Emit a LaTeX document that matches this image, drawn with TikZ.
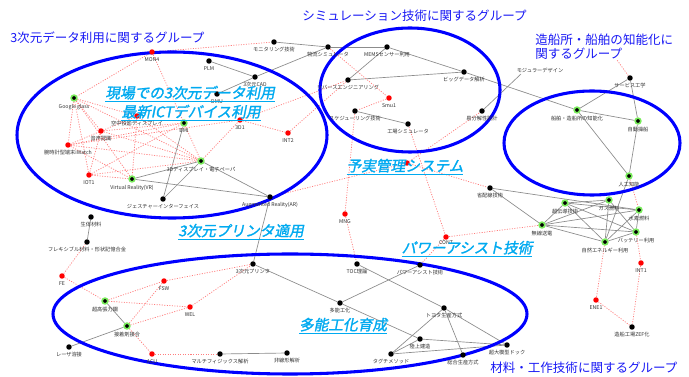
\documentclass[tikz,border=0pt]{standalone}
\usepackage{fontspec}
\setmainfont{Noto Sans CJK JP}
\newfontfamily\jpb[FakeSlant=0.2,FakeBold=1.5]{Noto Sans CJK JP}
\definecolor{eblue}{RGB}{0,0,255}
\definecolor{tblue}{RGB}{25,25,245}
\definecolor{cy}{RGB}{0,170,240}
\definecolor{halo}{RGB}{120,235,90}
\definecolor{rline}{RGB}{255,125,125}
\definecolor{gline}{RGB}{140,140,140}
\definecolor{lblc}{RGB}{50,50,50}
\pgfdeclarelayer{bgfill}
\pgfdeclarelayer{edges}
\pgfdeclarelayer{rings}
\pgfsetlayers{bgfill,edges,rings,main}
\begin{document}
\begin{tikzpicture}[x=0.75pt,y=-0.75pt,
 bdot/.style={circle,fill=black,inner sep=0pt,minimum size=4.1pt},
 gdot/.style={circle,fill=black,draw=halo,line width=1.2pt,inner sep=0pt,minimum size=4.3pt},
 rdot/.style={circle,fill=red,inner sep=0pt,minimum size=4.1pt},
 lbl/.style={font=\fontsize{3.9}{4}\selectfont,text=lblc,inner sep=0.3pt},
 every label/.style={lbl},
 label distance=1.3pt,
 gl/.style={draw=gline,line width=0.5pt},
 rl/.style={draw=rline,line width=0.55pt,dash pattern=on 0.8pt off 1.1pt},
 grp/.style={font=\fontsize{9.4}{10}\selectfont,text=tblue,inner sep=0pt,anchor=west},
 ov/.style={font=\jpb\fontsize{11}{12}\selectfont,text=cy,inner sep=0pt},
 ring/.style={draw=eblue,line width=2.3pt}
]
\begin{pgfonlayer}{bgfill}
\fill[white] (0,0) rectangle (689,377);
\end{pgfonlayer}
\useasboundingbox (0,0) rectangle (689,377);

% ---------- nodes: top / simulation ----------
\node[rdot,label=below:MON4] (mon4) at (152,52) {};
\node[bdot,label=below:PLM] (plm) at (209,61) {};
\node[bdot,label=below:3次元CAD] (cad) at (255,77) {};
\node[bdot,label=below:DMU] (dmu) at (217,94) {};
\node[bdot,label=below:モニタリング技術] (monit) at (274,42) {};
\node[bdot,label=below:物流シミュレータ] (butsu) at (328,47) {};
\node[bdot,label=below:MEMSセンサー利用] (mems) at (387,47) {};
\node[bdot,label=below:リバースエンジニアリング] (rev) at (348,80) {};
\node[rdot,label=below:Smu1] (smu) at (389,98) {};
\node[bdot,label=below:スケジューリング技術] (sched) at (355,111) {};
\node[bdot,label=below:工場シミュレータ] (kojo) at (408,124) {};
\node[bdot,label=below:ビッグデータ解析] (big) at (464,72) {};
\coordinate (modc) at (521,74);
\node[lbl] (modl) at (540,70) {モジュラーデザイン};
\node[bdot,label=below:易分解性設計] (kaib) at (482,111) {};
\node[bdot,label=below:サービス工学] (serv) at (630,78) {};
\coordinate (servend) at (617,60);
\node[gdot,label=below:船舶・造船所の知能化] (senp) at (577,110) {};
\node[gdot,label=below:自動操船] (jido) at (638,121) {};
\node[gdot,label=below:人工知能] (ai) at (629,176) {};

% ---------- nodes: 3D data ----------
\node[gdot,label=below:Google glass] (gg) at (74,98) {};
\node[rdot,label=below:空中投影ディスプレイ] (kuchu) at (137,116) {};
\node[rdot,label=below:音声認識] (onsei) at (101,131) {};
\node[rdot,label=below:腕時計型端末iWatch] (iwatch) at (68,145) {};
\node[gdot,label=below:BMI] (bmi) at (184,123) {};
\node[gdot,label=below:3Dディスプレイ・電子ペーパ] (tdd) at (201,161) {};
\node[rdot,label=below:IOT1] (iot) at (89,175) {};
\node[gdot,label=below:Virtual Reality(VR)] (vr) at (132,179) {};
\node[bdot,label=below:ジェスチャーインターフェイス] (gest) at (163,199) {};
\node[rdot,label=below:3D1] (tdone) at (240,120) {};
\node[rdot,label=below:INT2] (int2) at (288,133) {};
\node[bdot,label=below:Augmented Reality(AR)] (ar) at (270,197) {};

% ---------- nodes: centre ----------
\node[rdot] (yoj) at (407,163) {};
\node[rdot,label=below:MNG] (mng) at (345,214) {};
\node[rdot,label={[yshift=1pt]below:CONT}] (cont) at (446,237) {};
\node[bdot,label=below:TOC理論] (toc) at (357,264) {};
\node[bdot,label=below:パワーアシスト技術] (power) at (420,265) {};
\node[bdot,label=below:3次元プリンタ] (tdp) at (253,264) {};
\node[bdot,label=below:多能工化] (tano) at (340,303) {};
\node[bdot,label=below:トヨタ生産方式] (toyota) at (444,308) {};
\node[bdot,label=below:陸上建造] (riku) at (420,339) {};
\node[bdot,label=below:タグチメソッド] (tagu) at (391,354) {};
\node[bdot,label=below:総合生産方式] (sogo) at (463,355) {};
\node[bdot,label=below:超大模型ドック] (dock) at (507,345) {};

% ---------- nodes: energy ----------
\node[bdot,label=below:省配線技術] (shoh) at (490,188) {};
\node[gdot,label=below:超伝導技術] (chod) at (565,203) {};
\node[gdot,label=below:ガス燃料] (gas) at (609,200) {};
\node[gdot,label=below:水素燃料] (suiso) at (639,210) {};
\node[gdot,label=below:無線送電] (musen) at (542,225) {};
\node[gdot,label=below:バッテリー利用] (batt) at (636,232) {};
\node[gdot,label=below:自然エネルギー利用] (shizen) at (605,242) {};
\node[rdot,label=below:INT1] (int1) at (641,263) {};
\node[rdot,label=below:ENE1] (ene1) at (596,300) {};
\node[bdot,label=below:造船工場ZEF化] (zef) at (632,327) {};

% ---------- nodes: materials ----------
\node[bdot,label=below:生体材料] (seit) at (91,217) {};
\node[bdot,label=below:フレキシブル材料・形状記憶合金] (flex) at (87,242) {};
\node[rdot,label=below:FE] (fe) at (62,276) {};
\node[gdot,label=below:超高張力鋼] (choko) at (105,301) {};
\node[gdot,label=below:接着剤接合] (setch) at (127,326) {};
\node[bdot,label=below:レーザ溶接] (laser) at (69,347) {};
\node[rdot,label=below:FSW] (fsw) at (164,281) {};
\node[rdot,label=below:WEL] (wel) at (190,307) {};
\node[rdot,label=below:ACU] (acu) at (152,354) {};
\node[bdot,label=below:マルチフィジックス解析] (multi) at (220,354) {};
\node[bdot,label=below:非線形解析] (hisen) at (287,353) {};

% ---------- group rings ----------
\begin{pgfonlayer}{rings}
\draw[ring] (172,135) ellipse [x radius=116.25pt, y radius=62.25pt];
\draw[ring] (410,90) ellipse [x radius=67.5pt, y radius=46.5pt];
\draw[ring] (592,143) ellipse [x radius=66pt, y radius=39pt];
\draw[ring] (290,314) ellipse [x radius=177.75pt, y radius=45pt];
\end{pgfonlayer}

% ---------- connectors ----------
\begin{pgfonlayer}{edges}
% grey
\draw[gl] (plm) -- (cad);
\draw[gl] (cad) -- (dmu);
\draw[gl] (cad) -- (butsu);
\draw[gl] (monit) -- (butsu);
\draw[gl] (butsu) -- (mems);
\draw[gl] (mems) -- (rev);
\draw[gl] (mems) -- (big);
\draw[gl] (rev) -- (big);
\draw[gl] (sched) -- (kojo);
\draw[gl] (kaib) -- (modc);
\draw[gl] (big) -- (senp);
\draw[gl] (serv) -- (senp);
\draw[gl] (serv) -- (jido);
\draw[gl] (senp) -- (jido);
\draw[gl] (jido) -- (ai);
\draw[gl] (senp) -- (ai);
\draw[gl] (ai) -- (shizen);
\draw[gl] (vr) -- (tdd);
\draw[gl] (vr) -- (ar);
\draw[gl] (bmi) -- (gest);
\draw[gl] (tdd) -- (gest);
\draw[gl] (tdd) -- (ar);
\draw[gl] (ar) -- (tdp);
\draw[gl] (tdp) -- (tano);
\draw[gl] (tano) -- (power);
\draw[gl] (toc) -- (toyota);
\draw[gl] (tano) -- (riku);
\draw[gl] (riku) -- (dock);
\draw[gl] (riku) -- (tagu);
\draw[gl] (toyota) -- (tagu);
\draw[gl] (toyota) -- (sogo);
\draw[gl] (tagu) -- (dock);
\draw[gl] (toyota) -- (dock);
\draw[gl] (seit) -- (flex);
\draw[gl] (choko) -- (setch);
\draw[gl] (setch) -- (laser);
\draw[gl] (multi) -- (hisen);
\draw[gl] (shoh) -- (musen);
\draw[gl] (shoh) -- (suiso);
\draw[gl] (chod) -- (gas);
\draw[gl] (chod) -- (suiso);
\draw[gl] (chod) -- (musen);
\draw[gl] (chod) -- (batt);
\draw[gl] (chod) -- (shizen);
\draw[gl] (gas) -- (musen);
\draw[gl] (gas) -- (shizen);
\draw[gl] (gas) -- (batt);
\draw[gl] (suiso) -- (musen);
\draw[gl] (suiso) -- (batt);
\draw[gl] (suiso) -- (shizen);
\draw[gl] (musen) -- (batt);
\draw[gl] (musen) -- (shizen);
\draw[gl] (batt) -- (shizen);
% red dotted
\draw[rl] (mon4) -- (gg);
\draw[rl] (mon4) -- (monit);
\draw[rl] (mon4) -- (tdd);
\draw[rl] (gg) -- (kuchu);
\draw[rl] (gg) -- (onsei);
\draw[rl] (gg) -- (iwatch);
\draw[rl] (gg) -- (iot);
\draw[rl] (gg) -- (vr);
\draw[rl] (gg) -- (tdd);
\draw[rl] (kuchu) -- (iwatch);
\draw[rl] (kuchu) -- (vr);
\draw[rl] (kuchu) -- (tdd);
\draw[rl] (onsei) -- (bmi);
\draw[rl] (onsei) -- (tdd);
\draw[rl] (onsei) -- (iot);
\draw[rl] (iwatch) -- (bmi);
\draw[rl] (iwatch) -- (tdd);
\draw[rl] (iwatch) -- (vr);
\draw[rl] (iwatch) -- (tdone);
\draw[rl] (iot) -- (bmi);
\draw[rl] (iot) -- (tdd);
\draw[rl] (iot) -- (vr);
\draw[rl] (tdd) -- (tdone);
\draw[rl] (tdone) -- (int2);
\draw[rl] (tdone) -- (rev);
\draw[rl] (int2) -- (rev);
\draw[rl] (butsu) -- (smu);
\draw[rl] (smu) -- (sched);
\draw[rl] (sched) -- (mng);
\draw[rl] (mng) -- (toc);
\draw[rl] (kojo) -- (cont);
\draw[rl] (cont) -- (power);
\draw[rl] (cont) -- (musen);
\draw[rl] (yoj) -- (ar);
\draw[rl] (yoj) -- (shoh);
\draw[rl] (yoj) -- (kaib);
\draw[rl] (serv) -- (servend);
\draw[rl] (ai) -- (suiso);
\draw[rl] (batt) -- (int1);
\draw[rl] (shizen) -- (ene1);
\draw[rl] (ene1) -- (zef);
\draw[rl] (int1) -- (zef);
\draw[rl] (fe) -- (flex);
\draw[rl] (fe) -- (choko);
\draw[rl] (choko) -- (fsw);
\draw[rl] (choko) -- (wel);
\draw[rl] (setch) -- (fsw);
\draw[rl] (setch) -- (wel);
\draw[rl] (setch) -- (acu);
\draw[rl] (acu) -- (multi);
\draw[rl] (wel) -- (tdp);
\draw[rl] (fsw) -- (tdp);
\end{pgfonlayer}

% ---------- group titles ----------
\node[grp] (g1) at (10,38) {3次元データ利用に関するグループ};
\node[grp] (g2) at (302,16) {シミュレーション技術に関するグループ};
\node[grp] (g3) at (535,40) {造船所・船舶の知能化に};
\node[grp] (g3b) at (535,54) {関するグループ};
\node[grp] (g4) at (490,368) {材料・工作技術に関するグループ};

% ---------- overlay captions ----------
\node[ov] (o1) at (190,94) {\underline{現場での3次元データ利用}};
\node[ov] (o2) at (191,113) {\underline{最新ICTデバイス利用}};
\node[ov] (o3) at (405,167) {\underline{予実管理システム}};
\node[ov] (o4) at (241,232) {\underline{3次元プリンタ適用}};
\node[ov] (o5) at (467,249) {\underline{パワーアシスト技術}};
\node[ov] (o6) at (343,326) {\underline{多能工化育成}};
\end{tikzpicture}
\end{document}
